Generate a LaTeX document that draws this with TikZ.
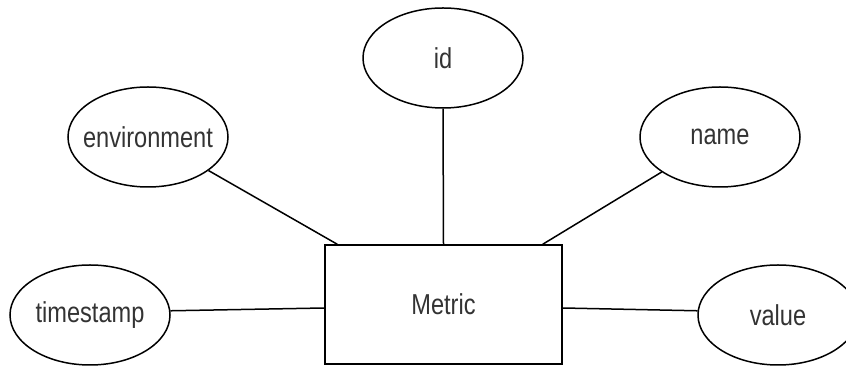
\documentclass[tikz,border=0pt]{standalone}
\usepackage{fontspec}
\setmainfont{Liberation Sans}
\usepackage{graphicx}
\usetikzlibrary{shapes.geometric}
\newcommand{\lbl}[1]{\scalebox{1}[1.22]{\fontsize{11.8}{14}\selectfont #1}}
\tikzset{attr/.style = {draw, ellipse, line width=0.75pt, minimum width=80pt, minimum height=50pt, inner xsep=-6pt, inner ysep=0, text=black!80}}
\tikzset{entity/.style = {draw, rectangle, line width=0.75pt, minimum width=118.5pt, minimum height=59.5pt, inner sep=0, text=black!80}}

\begin{document}
\begin{tikzpicture}[x=0.5pt, y=-0.5pt, line width=0.75pt]
    \useasboundingbox (0, 0) rectangle (846, 367);

    \node [entity] (metric) at (443.5, 304.5) {\lbl{Metric}};

    \node [attr] (id) at (443, 58) {\lbl{id}};
    \node [attr] (env) at (148, 137) {\lbl{environment}};
    \node [attr] (name) at (720, 137) {\lbl{name}};
    \node [attr] (ts) at (90, 315) {\lbl{timestamp}};
    \node [attr] (val) at (778, 315) {\lbl{value}};

    \draw (id.south) -- (metric.north);
    \draw (env.-29) -- ([xshift=6.5pt]metric.north west);
    \draw (name.-149) -- ([xshift=-10pt]metric.north east);
    \draw (ts.3) -- ([yshift=-1.75pt]metric.west);
    \draw (val.177) -- ([yshift=-1.75pt]metric.east);

  \end{tikzpicture}
\end{document}
